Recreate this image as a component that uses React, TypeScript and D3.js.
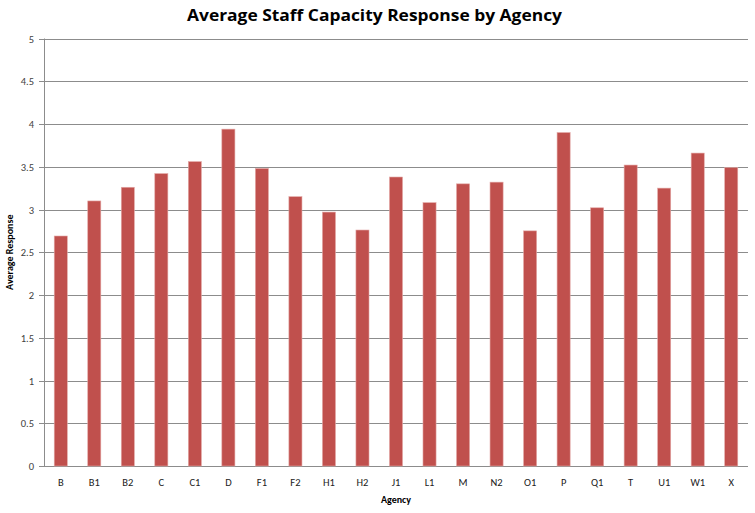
import React from "react";
import * as d3 from "d3";

const categories = ["B","B1","B2","C","C1","D","F1","F2","H1","H2","J1","L1","M","N2","O1","P","Q1","T","U1","W1","X"];
const values = [2.69,3.10,3.26,3.42,3.56,3.94,3.48,3.15,2.97,2.76,3.38,3.08,3.30,3.32,2.75,3.90,3.02,3.52,3.25,3.66,3.49];
const yTicks = [0,0.5,1,1.5,2,2.5,3,3.5,4,4.5,5];

const W = 755, H = 513;
const left = 44, right = 748, top = 38.5, bottom = 466;

export default function App() {
  const x = d3.scaleBand<string>().domain(categories).range([left, right]).paddingInner(0.61).paddingOuter(0.305);
  const y = d3.scaleLinear().domain([0, 5]).range([bottom, top]);
  const font = "Carlito, Calibri, 'Open Sans', 'Liberation Sans', sans-serif";
  return (
    <svg width={W} height={H} style={{ position: "absolute", left: 0, top: 0, background: "#fff" }} fontFamily={font}>
      <text x={187} y={21} fontFamily="'Open Sans', sans-serif" fontSize={16.5} fontWeight="bold" fill="#000" textLength={375} lengthAdjust="spacingAndGlyphs">
        Average Staff Capacity Response by Agency
      </text>
      {yTicks.map((t) => (
        <g key={t}>
          <line x1={left - 5} x2={right} y1={Math.round(y(t)) + 0.5} y2={Math.round(y(t)) + 0.5} stroke="#8c8c8c" strokeWidth={1} />
          <text x={34} y={y(t) + 4} textAnchor="end" fontSize={10.5} fill="#404040">{t}</text>
        </g>
      ))}
      <line x1={left + 0.5} x2={left + 0.5} y1={top} y2={bottom} stroke="#8c8c8c" strokeWidth={1} />
      {categories.map((c, i) => (
        <g key={c}>
          <rect x={x(c)} y={y(values[i])} width={x.bandwidth()} height={bottom - y(values[i])} fill="#C0504D" stroke="#e3a8a6" strokeWidth={0.6} />
          <text x={(x(c) as number) + x.bandwidth() / 2} y={486} textAnchor="middle" fontSize={10.5} fill="#222">{c}</text>
        </g>
      ))}
      <text x={396} y={503} textAnchor="middle" fontSize={10} fontWeight="bold" fill="#000">Agency</text>
      <text transform={`translate(13, ${(top + bottom) / 2}) rotate(-90)`} textAnchor="middle" fontSize={10} fontWeight="bold" fill="#000">Average Response</text>
    </svg>
  );
}
